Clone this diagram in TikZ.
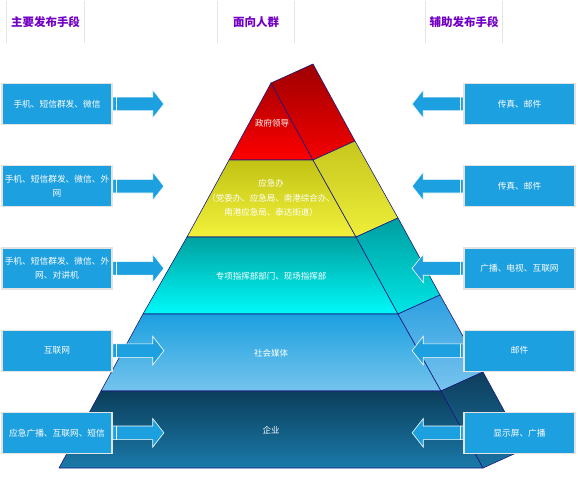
\documentclass[tikz,border=0pt]{standalone}
\usepackage{fontspec}
\setmainfont{Noto Sans CJK SC}
\usetikzlibrary{positioning,shapes.arrows}

\definecolor{boxblue}{HTML}{1DA0E0}
\definecolor{hdpurple}{HTML}{7200C4}
\definecolor{edgenavy}{HTML}{1A1A80}

\begin{document}
\begin{tikzpicture}[
  x=1pt, y=-1pt,
  hd/.style={font=\fontsize{11.5}{13}\selectfont\bfseries, text=hdpurple, minimum width=77pt, minimum height=42pt, inner sep=0pt},
  sep/.style={draw=gray!20, line width=1pt},
  box/.style={fill=boxblue, draw=gray!22, line width=1.2pt, text=white, align=center, minimum width=110pt, minimum height=41pt, inner sep=1pt, font=\fontsize{8.7}{14}\selectfont},
  blockarr/.style={single arrow, fill=boxblue, draw=white, line width=0.6pt, inner xsep=0pt, inner ysep=6.5pt, minimum height=51pt, minimum width=28pt, single arrow head extend=7.5pt, single arrow tip angle=104, single arrow head indent=0pt, anchor=tail},
  rarr/.style={blockarr, path picture={\draw[white, line width=0.8pt] ([xshift=3pt]path picture bounding box.north west) -- ([xshift=3pt]path picture bounding box.south west);}},
  larr/.style={blockarr, shape border rotate=180, path picture={\draw[white, line width=0.8pt] ([xshift=-3pt]path picture bounding box.north east) -- ([xshift=-3pt]path picture bounding box.south east);}},
  face/.style={draw=edgenavy, line width=0.6pt, line join=round},
  lvl/.style={text=white, align=center, font=\fontsize{8.5}{14.5}\selectfont}
]
\useasboundingbox (0,0) rectangle (578,500);

% column heads
\node[hd] (hdmain) at (45.5,22) {主要发布手段};
\node[hd] (hdaud) at (256,22) {面向人群};
\node[hd] (hdaux) at (464,22) {辅助发布手段};
\draw[sep] (hdmain.north west) -- (hdmain.south west);
\draw[sep] (hdmain.north east) -- (hdmain.south east);
\draw[sep] (hdaud.north west) -- (hdaud.south west);
\draw[sep] (hdaud.north east) -- (hdaud.south east);
\draw[sep] (hdaux.north west) -- (hdaux.south west);
\draw[sep] (hdaux.north east) -- (hdaux.south east);

% pyramid corners
\coordinate (apex) at (271,83);
\coordinate (bapex) at (313,64);
\coordinate (l1) at (229,160); \coordinate (r1) at (313,160); \coordinate (b1) at (355,141);
\coordinate (l2) at (187,237); \coordinate (r2) at (356,237); \coordinate (b2) at (398,218);
\coordinate (l3) at (143,314); \coordinate (r3) at (398,314); \coordinate (b3) at (440,295);
\coordinate (l4) at (101,391); \coordinate (r4) at (441,391); \coordinate (b4) at (483,372);
\coordinate (l5) at (59,468);  \coordinate (r5) at (483,468); \coordinate (b5) at (525,449);

\draw[face, top color=red!68!black, bottom color=red] (apex) -- (l1) -- (r1) -- cycle;
\draw[face, top color=red!62!black, bottom color=red!96!black] (apex) -- (r1) -- (b1) -- (bapex) -- cycle;
\draw[face, top color={rgb,255:red,194;green,194;blue,20}, bottom color={rgb,255:red,242;green,242;blue,60}] (l1) -- (l2) -- (r2) -- (r1) -- cycle;
\draw[face, top color={rgb,255:red,198;green,198;blue,30}, bottom color={rgb,255:red,238;green,238;blue,58}] (r1) -- (r2) -- (b2) -- (b1) -- cycle;
\draw[face, top color={rgb,255:red,0;green,160;blue,160}, bottom color={rgb,255:red,0;green,250;blue,250}] (l2) -- (l3) -- (r3) -- (r2) -- cycle;
\draw[face, top color={rgb,255:red,0;green,158;blue,160}, bottom color={rgb,255:red,0;green,230;blue,230}] (r2) -- (r3) -- (b3) -- (b2) -- cycle;
\draw[face, top color={rgb,255:red,28;green,160;blue,224}, bottom color={rgb,255:red,116;green,196;blue,236}] (l3) -- (l4) -- (r4) -- (r3) -- cycle;
\draw[face, top color={rgb,255:red,44;green,159;blue,224}, bottom color={rgb,255:red,120;green,196;blue,238}] (r3) -- (r4) -- (b4) -- (b3) -- cycle;
\draw[face, top color={rgb,255:red,11;green,62;blue,90}, bottom color={rgb,255:red,26;green,122;blue,170}] (l4) -- (l5) -- (r5) -- (r4) -- cycle;
\draw[face, top color={rgb,255:red,14;green,62;blue,92}, bottom color={rgb,255:red,26;green,116;blue,162}] (r4) -- (r5) -- (b5) -- (b4) -- cycle;

\node[lvl] (lvgov) at (272,123) {政府领导};
\node[lvl] (lvoffice) at (271,198) {应急办\\（党委办、应急局、南港综合办、\\南港应急局、泰达街道）};
\node[lvl] (lvcmd) at (271,276) {专项指挥部部门、现场指挥部};
\node[lvl] (lvmedia) at (271,353) {社会媒体};
\node[lvl] (lvent) at (271,430) {企业};

% main channels
\node[box] (lb1) at (57,104) {手机、短信群发、微信};
\node[box, below=40pt of lb1] (lb2) {手机、短信群发、微信、外\\网};
\node[box, below=40pt of lb2] (lb3) {手机、短信群发、微信、外\\网、对讲机};
\node[box, below=40pt of lb3] (lb4) {互联网};
\node[box, below=40pt of lb4] (lb5) {应急广播、互联网、短信};

% auxiliary channels
\node[box, minimum width=111pt] (rb1) at (519.5,104) {传真、邮件};
\node[box, minimum width=111pt, below=40pt of rb1] (rb2) {传真、邮件};
\node[box, minimum width=111pt, below=40pt of rb2] (rb3) {广播、电视、互联网};
\node[box, minimum width=111pt, below=40pt of rb3] (rb4) {邮件};
\node[box, minimum width=111pt, below=40pt of rb4] (rb5) {显示屏、广播};

\node[rarr] (ra1) at (lb1.east) {};
\node[rarr] (ra2) at (lb2.east) {};
\node[rarr] (ra3) at (lb3.east) {};
\node[rarr] (ra4) at (lb4.east) {};
\node[rarr] (ra5) at (lb5.east) {};
\node[larr] (la1) at (rb1.west) {};
\node[larr] (la2) at (rb2.west) {};
\node[larr] (la3) at (rb3.west) {};
\node[larr] (la4) at (rb4.west) {};
\node[larr] (la5) at (rb5.west) {};
\end{tikzpicture}
\end{document}
